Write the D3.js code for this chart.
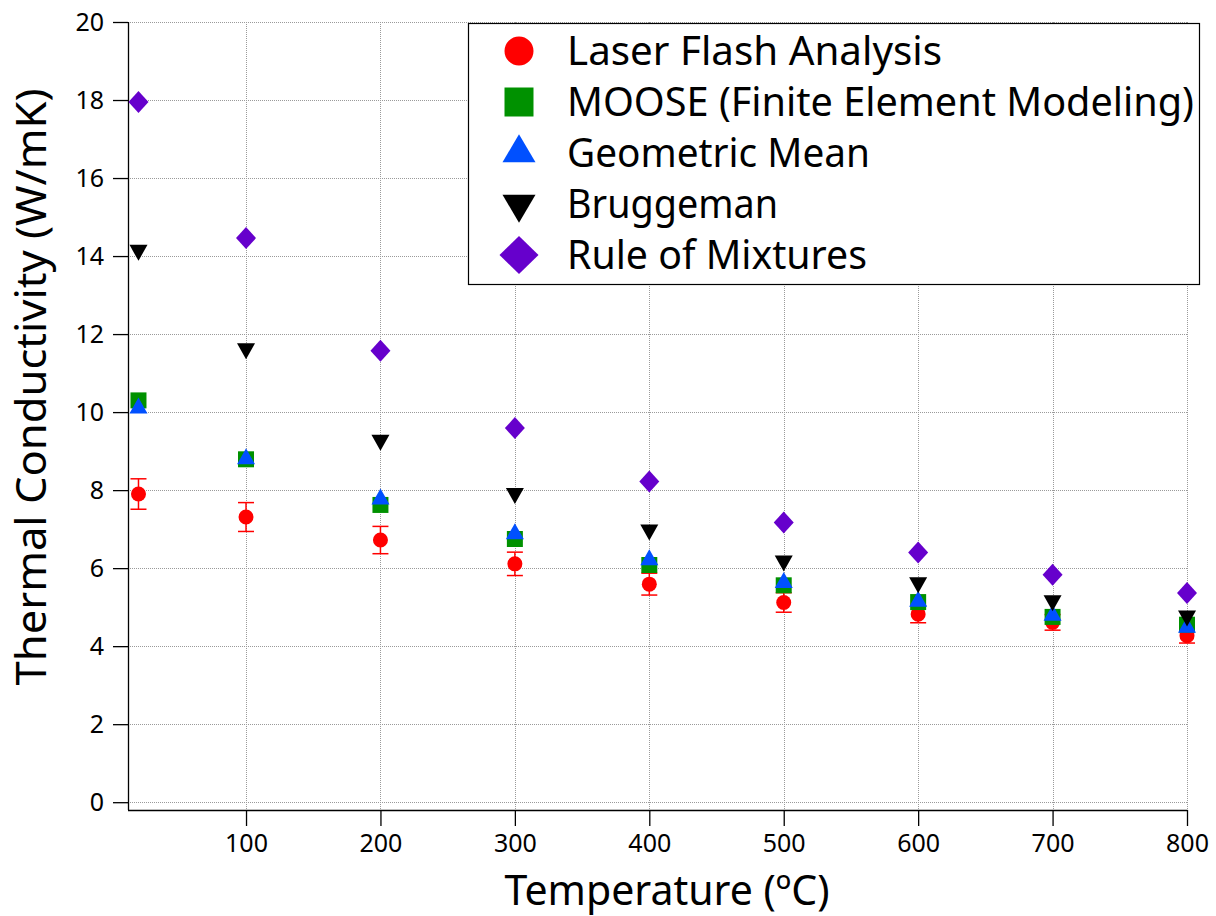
<!DOCTYPE html>
<html>
<head>
<meta charset="utf-8">
<script src="https://cdn.jsdelivr.net/npm/d3@7"></script>
<style>
  html, body { margin: 0; padding: 0; background: #fff; }
  svg { display: block; }
</style>
</head>
<body>
<svg id="chart" width="1216" height="916"></svg>
<script>
// ---------------- data ----------------
const temperatures   = [20, 100, 200, 300, 400, 500, 600, 700, 800];
const laserFlash     = [7.90, 7.31, 6.72, 6.11, 5.59, 5.12, 4.82, 4.61, 4.27];
const laserFlashErr  = [0.39, 0.37, 0.35, 0.30, 0.28, 0.25, 0.22, 0.20, 0.19];
const moose          = [10.30, 8.79, 7.62, 6.75, 6.08, 5.56, 5.13, 4.75, 4.55];
const geometricMean  = [10.10, 8.80, 7.77, 6.88, 6.21, 5.63, 5.15, 4.79, 4.48];
const bruggeman      = [14.15, 11.63, 9.28, 7.92, 6.98, 6.19, 5.63, 5.17, 4.78];
const ruleOfMixtures = [17.95, 14.46, 11.57, 9.59, 8.22, 7.17, 6.40, 5.83, 5.36];

const seriesNames  = ["Laser Flash Analysis", "MOOSE (Finite Element Modeling)", "Geometric Mean", "Bruggeman", "Rule of Mixtures"];
const seriesColors = ["#ff0000", "#009100", "#0050ff", "#000000", "#6600cc"];
const seriesShapes = ["circle", "square", "triangleUp", "triangleDown", "diamond"];

const xTicks = [100, 200, 300, 400, 500, 600, 700, 800];
const yTicks = [0, 2, 4, 6, 8, 10, 12, 14, 16, 18, 20];

const xTitle = "Temperature (ºC)";
const yTitle = "Thermal Conductivity (W/mK)";

// ---------------- layout ----------------
const svg = d3.select("#chart");
const pLeft = 128, pRight = 1187, pTop = 22, pBottom = 810;

const x = d3.scaleLinear().domain([12.2, 800]).range([pLeft, pRight]);
const y = d3.scaleLinear().domain([-0.2, 20]).range([pBottom, pTop]);

function shapePath(shape, cx, cy, s) {
  const p = d3.path();
  if (shape === "circle") {
    p.arc(cx, cy, s.r, 0, 2 * Math.PI);
  } else if (shape === "square") {
    p.rect(cx - s.w / 2, cy - s.w / 2, s.w, s.w);
  } else if (shape === "triangleUp") {
    p.moveTo(cx, cy - s.h * 2 / 3);
    p.lineTo(cx + s.w / 2, cy + s.h / 3);
    p.lineTo(cx - s.w / 2, cy + s.h / 3);
    p.closePath();
  } else if (shape === "triangleDown") {
    p.moveTo(cx, cy + s.h * 2 / 3);
    p.lineTo(cx + s.w / 2, cy - s.h / 3);
    p.lineTo(cx - s.w / 2, cy - s.h / 3);
    p.closePath();
  } else if (shape === "diamond") {
    p.moveTo(cx, cy - s.h / 2);
    p.lineTo(cx + s.w / 2, cy);
    p.lineTo(cx, cy + s.h / 2);
    p.lineTo(cx - s.w / 2, cy);
    p.closePath();
  }
  return p.toString();
}

const plotSizes = {
  circle: { r: 7.5 }, square: { w: 16 },
  triangleUp: { w: 18, h: 16 }, triangleDown: { w: 18, h: 16 },
  diamond: { w: 20, h: 22 }
};
const legendSizes = {
  circle: { r: 14.5 }, square: { w: 29 },
  triangleUp: { w: 33, h: 28 }, triangleDown: { w: 33, h: 28 },
  diamond: { w: 39, h: 38 }
};

// ---------------- grid ----------------
const grid = svg.append("g").attr("stroke", "#9a9a9a").attr("stroke-width", 1)
  .attr("stroke-dasharray", "1,1").attr("shape-rendering", "crispEdges");
grid.selectAll("line.h").data(yTicks).join("line").attr("class", "h")
  .attr("x1", pLeft).attr("x2", pRight)
  .attr("y1", d => Math.round(y(d)) + 0.5).attr("y2", d => Math.round(y(d)) + 0.5);
grid.selectAll("line.v").data(xTicks).join("line").attr("class", "v")
  .attr("y1", pTop).attr("y2", pBottom)
  .attr("x1", d => Math.round(x(d)) + 0.5).attr("x2", d => Math.round(x(d)) + 0.5);

// ---------------- axes ----------------
const yAxis = d3.axisLeft(y).tickValues(yTicks).tickSize(15).tickPadding(9).tickFormat(d3.format("d"));
const gy = svg.append("g").attr("transform", `translate(${pLeft},0)`).call(yAxis);
gy.select(".domain").attr("d", `M0.5,${pTop}V${pBottom}`).attr("stroke", "#000").attr("stroke-width", 1.3);
gy.selectAll(".tick line").attr("stroke", "#000").attr("stroke-width", 1.3);
gy.selectAll(".tick text").attr("font-family", "'Noto Sans', sans-serif").attr("font-size", 25)
  .attr("fill", "#000");

const xAxis = d3.axisBottom(x).tickValues(xTicks).tickSize(16).tickPadding(8).tickFormat(d3.format("d"));
const gx = svg.append("g").attr("transform", `translate(0,${pBottom})`).call(xAxis);
gx.select(".domain").attr("d", `M${pLeft},0.5H${pRight + 0.5}`).attr("stroke", "#000").attr("stroke-width", 1.3);
gx.selectAll(".tick line").attr("stroke", "#000").attr("stroke-width", 1.3);
gx.selectAll(".tick text").attr("font-family", "'Noto Sans', sans-serif").attr("font-size", 25)
  .attr("fill", "#000");

// axis titles
svg.append("text").attr("x", 667).attr("y", 905).attr("text-anchor", "middle")
  .attr("font-family", "'Noto Sans', sans-serif").attr("font-size", 41)
  .attr("textLength", 325).attr("lengthAdjust", "spacingAndGlyphs").text(xTitle);
svg.append("text").attr("transform", "translate(46,387) rotate(-90)").attr("text-anchor", "middle")
  .attr("font-family", "'Noto Sans', sans-serif").attr("font-size", 41)
  .attr("textLength", 597).attr("lengthAdjust", "spacingAndGlyphs").text(yTitle);

// ---------------- data marks ----------------
const allSeries = [laserFlash, moose, geometricMean, bruggeman, ruleOfMixtures];

const eb = svg.append("g").attr("stroke", seriesColors[0]).attr("stroke-width", 1.5);
const errData = temperatures.map((t, i) => ({ t, v: laserFlash[i], e: laserFlashErr[i] }));
eb.selectAll("line.bar").data(errData).join("line").attr("class", "bar")
  .attr("x1", d => x(d.t)).attr("x2", d => x(d.t))
  .attr("y1", d => y(d.v + d.e)).attr("y2", d => y(d.v - d.e));
eb.selectAll("line.capTop").data(errData).join("line").attr("class", "capTop")
  .attr("x1", d => x(d.t) - 8).attr("x2", d => x(d.t) + 8)
  .attr("y1", d => y(d.v + d.e)).attr("y2", d => y(d.v + d.e));
eb.selectAll("line.capBot").data(errData).join("line").attr("class", "capBot")
  .attr("x1", d => x(d.t) - 8).attr("x2", d => x(d.t) + 8)
  .attr("y1", d => y(d.v - d.e)).attr("y2", d => y(d.v - d.e));

allSeries.forEach((vals, si) => {
  const shape = seriesShapes[si];
  svg.append("g").selectAll("path").data(temperatures.map((t, i) => ({ t, v: vals[i] })))
    .join("path")
    .attr("d", d => shapePath(shape, x(d.t), y(d.v), plotSizes[shape]))
    .attr("fill", seriesColors[si]);
});

// ---------------- legend ----------------
const lg = svg.append("g");
lg.append("rect").attr("x", 468.5).attr("y", 23.5).attr("width", 731).attr("height", 261)
  .attr("fill", "#fff").attr("stroke", "#000").attr("stroke-width", 1.2);
const legendRowY = [51, 102, 153, 204, 255];
const legendTextLen = [375, 627, 303, 211, 300];
seriesNames.forEach((name, i) => {
  const shape = seriesShapes[i];
  lg.append("path").attr("d", shapePath(shape, 519, legendRowY[i], legendSizes[shape]))
    .attr("fill", seriesColors[i]);
  lg.append("text").attr("x", 567).attr("y", legendRowY[i] + 14)
    .attr("font-family", "'Noto Sans', sans-serif").attr("font-size", 40)
    .attr("textLength", legendTextLen[i]).attr("lengthAdjust", "spacingAndGlyphs")
    .text(name);
});
</script>
</body>
</html>
